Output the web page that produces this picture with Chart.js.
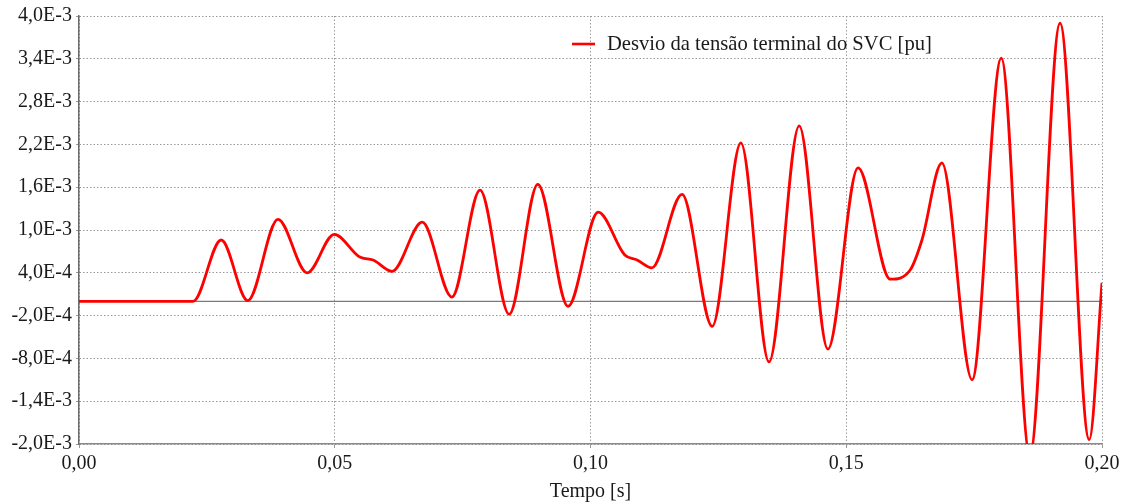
<!DOCTYPE html>
<html>
<head>
<meta charset="utf-8">
<script src="https://cdn.jsdelivr.net/npm/chart.js@4.4.1/dist/chart.umd.min.js"></script>
<style>
  body { margin: 0; background: #fff; }
  #wrap { width: 1127px; height: 504px; position: relative; }
</style>
</head>
<body>
<div id="wrap"><canvas id="graph"></canvas></div>
<script>
// -------------------------
// DATA
// -------------------------
const seriesLabel = "Desvio da tensão terminal do SVC [pu]";

const timeValues = [
  0.0000, 0.0223, 0.0278, 0.0330, 0.0389, 0.0446, 0.0499, 0.0549, 0.0575,
  0.0612, 0.0671, 0.0729, 0.0784, 0.0841, 0.0897, 0.0956, 0.1015, 0.1067,
  0.1091, 0.1120, 0.1179, 0.1238, 0.1294, 0.1349, 0.1408, 0.1464, 0.1523,
  0.1586, 0.1625, 0.1648, 0.1687, 0.1746, 0.1803, 0.1859, 0.1918, 0.1975,
  0.2000
];

const deviationValues = [
  0.0e-3, 0.0e-3, 0.86e-3, 0.01e-3, 1.15e-3, 0.40e-3, 0.94e-3, 0.62e-3, 0.58e-3,
  0.42e-3, 1.11e-3, 0.06e-3, 1.56e-3, -0.18e-3, 1.64e-3, -0.07e-3, 1.25e-3, 0.65e-3,
  0.58e-3, 0.47e-3, 1.50e-3, -0.35e-3, 2.22e-3, -0.85e-3, 2.46e-3, -0.67e-3, 1.87e-3,
  0.31e-3, 0.44e-3, 0.86e-3, 1.94e-3, -1.10e-3, 3.41e-3, -2.15e-3, 3.90e-3, -1.94e-3,
  0.26e-3
];

const yTickValues = [-2.0e-3, -1.4e-3, -8.0e-4, -2.0e-4, 4.0e-4, 1.0e-3, 1.6e-3, 2.2e-3, 2.8e-3, 3.4e-3, 4.0e-3];
const xTickValues = [0.00, 0.05, 0.10, 0.15, 0.20];

const FONT = "'Liberation Serif', 'Times New Roman', serif";

// -------------------------
// PLUGINS
// -------------------------
const zeroLine = {
  id: "zeroLine",
  beforeDatasetsDraw(c) {
    const y = c.scales.y.getPixelForValue(0);
    const { left, right } = c.chartArea;
    const ctx = c.ctx;
    ctx.save();
    ctx.strokeStyle = "#7a7a7a";
    ctx.lineWidth = 1.2;
    ctx.beginPath();
    ctx.moveTo(left, y);
    ctx.lineTo(right, y);
    ctx.stroke();
    ctx.restore();
  }
};

const floatLegend = {
  id: "floatLegend",
  afterDraw(c) {
    const ctx = c.ctx;
    const ds = c.data.datasets[0];
    const x = c.chartArea.left + 493;
    const y = c.chartArea.top + 28;
    ctx.save();
    ctx.strokeStyle = ds.borderColor;
    ctx.lineWidth = 2.6;
    ctx.beginPath();
    ctx.moveTo(x, y);
    ctx.lineTo(x + 23, y);
    ctx.stroke();
    ctx.fillStyle = "#1a1a1a";
    ctx.font = "20.6px " + FONT;
    ctx.textBaseline = "middle";
    ctx.fillText(ds.label, x + 35, y + 1);
    ctx.restore();
  }
};

// -------------------------
// INIT CHART
// -------------------------
function initChart() {
  const ctx = document.getElementById("graph").getContext("2d");

  new Chart(ctx, {
    type: "line",
    data: {
      datasets: [{
        label: seriesLabel,
        data: timeValues.map((t, i) => ({ x: t, y: deviationValues[i] })),
        borderColor: "#ff0000",
        borderWidth: 2.8,
        pointRadius: 0,
        fill: false,
        cubicInterpolationMode: "monotone",
        clip: 0
      }]
    },
    options: {
      responsive: true,
      maintainAspectRatio: false,
      animation: false,
      layout: { padding: { left: 0, right: 25, top: 16, bottom: 0 } },
      plugins: {
        legend: { display: false },
        tooltip: { enabled: false }
      },
      scales: {
        x: {
          type: "linear",
          min: 0,
          max: 0.2,
          afterBuildTicks: s => { s.ticks = xTickValues.map(v => ({ value: v })); },
          afterFit: s => { s.height = 60; },
          ticks: {
            callback: v => v.toFixed(2).replace(".", ","),
            color: "#1a1a1a",
            font: { family: FONT, size: 20 },
            padding: 4,
            maxRotation: 0
          },
          grid: { color: "#999999", lineWidth: 1, tickLength: 4 },
          border: { color: "#8a8a8a", width: 1.5, dash: [1.5, 2] },
          title: {
            display: true,
            text: "Tempo [s]",
            color: "#1a1a1a",
            font: { family: FONT, size: 20 },
            padding: { top: 0, bottom: 0 }
          }
        },
        y: {
          min: -2.0e-3,
          max: 4.0e-3,
          afterBuildTicks: s => { s.ticks = yTickValues.map(v => ({ value: v })); },
          afterFit: s => { s.width = 79; },
          ticks: {
            callback: v => v.toExponential(1).replace(".", ",").replace("e", "E").replace("+", ""),
            color: "#1a1a1a",
            font: { family: FONT, size: 20 },
            padding: 4
          },
          grid: { color: "#999999", lineWidth: 1, tickLength: 3 },
          border: { color: "#6a6a6a", width: 1.5, dash: [1.5, 2] }
        }
      }
    },
    plugins: [zeroLine, floatLegend]
  });
}

// -------------------------
// START
// -------------------------
initChart();
</script>
</body>
</html>
